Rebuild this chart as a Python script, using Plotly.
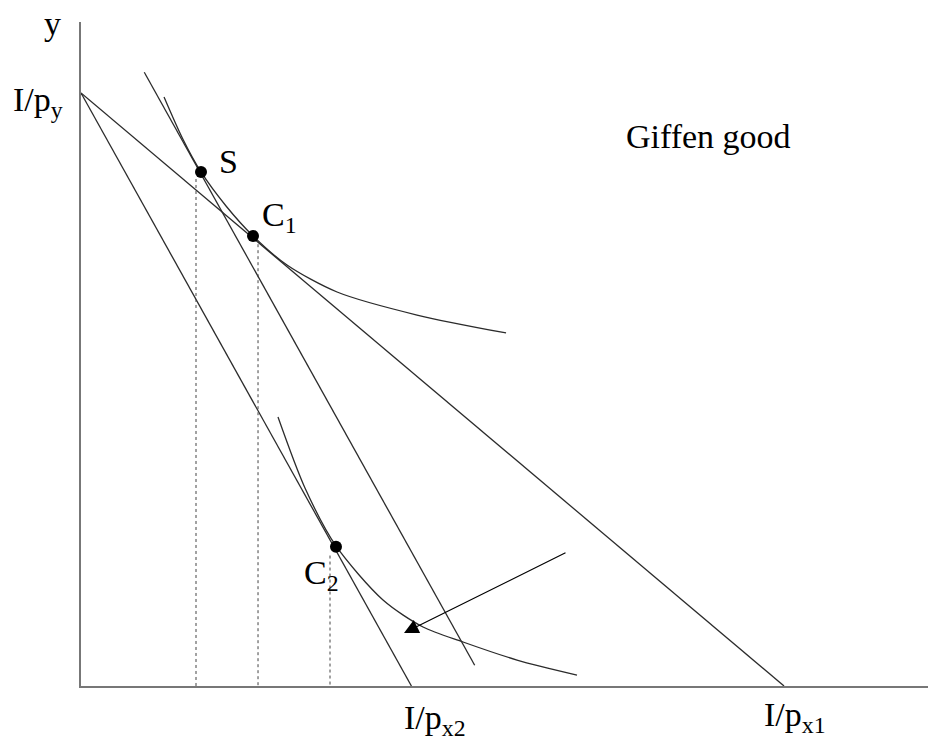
import plotly.graph_objects as go

# ---- data (units: I/p_y = 10, I/p_x1 = 10) ----
budget1_x = [0, 10]
budget1_y = [10, 0]
budget2_x = [0, 4.7]
budget2_y = [10, 0]
comp_x = [0.9, 5.6]
comp_y = [10.35, 0.35]

ic1_x = [1.181, 1.45, 1.707, 2.063, 2.447, 2.930, 3.642, 4.780, 6.046]
ic1_y = [9.933, 9.22, 8.668, 8.094, 7.589, 7.099, 6.644, 6.256, 5.953]
ic2_x = [2.802, 3.186, 3.627, 4.296, 4.865, 5.434, 6.202, 7.055]
ic2_y = [4.536, 3.339, 2.361, 1.450, 0.995, 0.742, 0.438, 0.185]

points_name = ["S", "C1", "C2"]
points_x = [1.707, 2.447, 3.627]
points_y = [8.668, 7.589, 2.35]

drop_x = [1.636, 2.518, 3.542]
drop_top = [8.55, 7.45, 2.2]

arrow_from = (6.913, 2.260)
arrow_to = (4.595, 0.894)

LINE = "#2b2b2b"
FONT = "Liberation Serif, Times New Roman, serif"

fig = go.Figure()

def seg(x, y, **kw):
    fig.add_trace(go.Scatter(x=x, y=y, mode="lines", hoverinfo="skip",
                             showlegend=False, **kw))

seg(budget1_x, budget1_y, line=dict(color=LINE, width=1.3))
seg(budget2_x, budget2_y, line=dict(color=LINE, width=1.3))
seg(comp_x, comp_y, line=dict(color=LINE, width=1.3))
seg(ic1_x, ic1_y, line=dict(color=LINE, width=1.3, shape="spline", smoothing=0.8))
seg(ic2_x, ic2_y, line=dict(color=LINE, width=1.3, shape="spline", smoothing=0.8))

for dx, dt in zip(drop_x, drop_top):
    seg([dx, dx], [dt, 0], line=dict(color="#444", width=1, dash="dot"))

fig.add_trace(go.Scatter(x=points_x, y=points_y, mode="markers",
                         marker=dict(color="black", size=12),
                         hoverinfo="skip", showlegend=False))

fig.add_annotation(x=arrow_to[0], y=arrow_to[1], ax=arrow_from[0], ay=arrow_from[1],
                   xref="x", yref="y", axref="x", ayref="y", text="",
                   showarrow=True, arrowhead=2, arrowsize=2.4, arrowwidth=1.2,
                   arrowcolor="black")

# labels in paper coordinates (plot area fraction)
labels = [
    ("y", -0.0342, 0.997, "center", "middle"),
    ("I/p<sub>y</sub>", -0.0189, 0.8795, "right", "middle"),
    ("S", 0.1747, 0.790, "center", "middle"),
    ("C<sub>1</sub>", 0.2110, 0.706, "left", "middle"),
    ("C<sub>2</sub>", 0.2605, 0.167, "left", "middle"),
    ("Giffen good", 0.7403, 0.827, "center", "middle"),
    ("I/p<sub>x2</sub>", 0.418, -0.051, "center", "middle"),
    ("I/p<sub>x1</sub>", 0.843, -0.047, "center", "middle"),
]
for t, x, y, xa, ya in labels:
    fig.add_annotation(x=x, y=y, xref="paper", yref="paper", text=t, showarrow=False,
                       xanchor=xa, yanchor=ya,
                       font=dict(family=FONT, size=34, color="black"))

fig.update_layout(
    width=928, height=742,
    margin=dict(l=81, r=0, t=22, b=56),
    paper_bgcolor="white", plot_bgcolor="white",
    xaxis=dict(range=[0, 12.048], showgrid=False, zeroline=False, showticklabels=False,
               ticks="", showline=True, linecolor="#777", linewidth=2, fixedrange=True),
    yaxis=dict(range=[0, 11.197], showgrid=False, zeroline=False, showticklabels=False,
               ticks="", showline=True, linecolor="#777", linewidth=2, fixedrange=True),
    showlegend=False,
)

fig.write_html("out.html", config={"displayModeBar": False},
               post_script="document.body.style.margin='0';document.body.style.overflow='hidden';")
